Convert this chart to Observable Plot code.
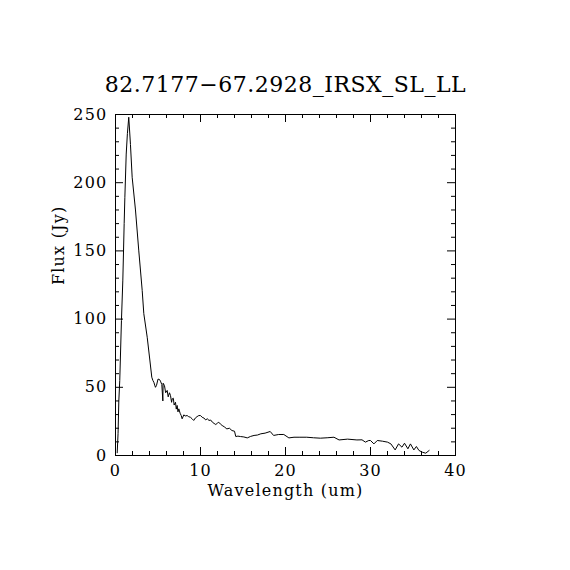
<!DOCTYPE html>
<html>
<head>
<meta charset="utf-8">
<script src="https://cdn.jsdelivr.net/npm/d3@7"></script>
<script src="https://cdn.jsdelivr.net/npm/@observablehq/plot@0.6"></script>
<style>
  html, body { margin: 0; padding: 0; background: #fff; }
  #chart { width: 570px; height: 570px; }
  #chart svg text { letter-spacing: 1.2px; }
  #chart svg g.title text { letter-spacing: 0.5px; }
</style>
</head>
<body>
<div id="chart"></div>
<script>
const titleText = "82.7177\u221267.2928_IRSX_SL_LL";
const xLabel = "Wavelength (um)";
const yLabel = "Flux (Jy)";

const wavelength = [0.2, 0.3, 0.39, 0.5, 0.7, 0.86, 1.02, 1.1, 1.26, 1.4, 1.56, 1.76, 1.96, 2.35, 2.74, 3.14, 3.33, 3.73, 4.04, 4.27, 4.4, 4.51, 4.7, 4.82, 5.0, 5.18, 5.29, 5.45, 5.57, 5.6, 5.76, 5.9, 6.08, 6.2, 6.35, 6.47, 6.6, 6.67, 6.8, 6.9, 7.06, 7.15, 7.25, 7.35, 7.45, 7.6, 7.73, 7.84, 8.04, 8.2, 8.43, 8.6, 8.82, 9.0, 9.2, 9.41, 9.6, 9.8, 10.0, 10.2, 10.4, 10.6, 10.8, 11.0, 11.2, 11.4, 11.6, 11.8, 12.0, 12.15, 12.35, 12.55, 12.8, 13.1, 13.4, 13.7, 14.0, 14.15, 14.4, 14.7, 15.1, 15.5, 15.9, 16.3, 16.7, 17.1, 17.6, 18.2, 18.6, 19.2, 19.8, 20.4, 21.0, 21.6, 22.5, 23.3, 24.1, 24.9, 25.7, 26.3, 27.3, 28.4, 29.0, 29.4, 29.8, 30.0, 30.4, 30.8, 31.4, 32.0, 32.4, 32.9, 33.3, 33.7, 34.0, 34.4, 34.7, 35.1, 35.4, 35.7, 36.1, 36.5, 36.9];
const flux = [2, 16, 40, 55, 99, 128, 170, 189, 221, 236, 248, 228, 204, 180, 150, 121, 104, 86.7, 70, 57.4, 55, 53.7, 50, 51.3, 56, 55.7, 54.5, 52, 40, 53, 51.3, 46, 47.7, 43, 46, 44, 39, 41.5, 42, 37, 39, 34, 36.7, 32, 34.2, 31, 29.3, 26.9, 29.8, 29, 29.3, 28.5, 28, 27, 25.7, 27.6, 28.5, 29.3, 29.3, 28, 27.5, 26.1, 26.9, 25.7, 26, 24.4, 23.5, 22.7, 23.8, 24.4, 23, 22, 21, 19.5, 20, 18.3, 17.8, 13.9, 14.2, 13.9, 13.6, 12.9, 14, 14.7, 15, 15.9, 16.4, 17.6, 14.7, 15.4, 15.4, 12.9, 13.4, 13.4, 13.4, 13, 12.7, 13, 13.4, 11.4, 12, 11.4, 11.5, 9.8, 11, 11, 8.5, 11, 10.5, 9.8, 8.5, 4.1, 8.5, 6.1, 9, 4.9, 8.5, 4.1, 6.6, 3.7, 2.4, 1.7, 3.7];

const xMajor = [0, 10, 20, 30, 40];
const xMinor = [2, 4, 6, 8, 12, 14, 16, 18, 22, 24, 26, 28, 32, 34, 36, 38];
const yMajor = [0, 50, 100, 150, 200, 250];
const yMinor = [10, 20, 30, 40, 60, 70, 80, 90, 110, 120, 130, 140, 160, 170, 180, 190, 210, 220, 230, 240];

const data = wavelength.map((w, i) => ({w, f: flux[i]}));

const W = 570, H = 570;
const mL = 115, mR = 115, mT = 114, mB = 115;
const innerW = W - mL - mR, innerH = H - mT - mB;
const majLen = 8, minLen = 4;
const font = "'DejaVu Serif', 'Liberation Serif', serif";

const chart = Plot.plot({
  width: W, height: H,
  marginLeft: mL, marginRight: mR, marginTop: mT, marginBottom: mB,
  style: {fontFamily: font, fontSize: "16px", color: "#000", background: "#fff"},
  x: {domain: [0, 40]},
  y: {domain: [0, 250]},
  marks: [
    Plot.frame({stroke: "#000", strokeWidth: 1}),
    Plot.ruleX(xMajor, {x: d => d, insetTop: innerH - majLen, stroke: "#000"}),
    Plot.ruleX(xMajor, {x: d => d, insetBottom: innerH - majLen, stroke: "#000"}),
    Plot.ruleX(xMinor, {x: d => d, insetTop: innerH - minLen, stroke: "#000"}),
    Plot.ruleX(xMinor, {x: d => d, insetBottom: innerH - minLen, stroke: "#000"}),
    Plot.ruleY(yMajor, {y: d => d, insetRight: innerW - majLen, stroke: "#000"}),
    Plot.ruleY(yMajor, {y: d => d, insetLeft: innerW - majLen, stroke: "#000"}),
    Plot.ruleY(yMinor, {y: d => d, insetRight: innerW - minLen, stroke: "#000"}),
    Plot.ruleY(yMinor, {y: d => d, insetLeft: innerW - minLen, stroke: "#000"}),
    Plot.axisX(xMajor, {tickSize: 0, tickPadding: 9, label: null, fontSize: 16, tickFormat: d => String(d)}),
    Plot.axisY(yMajor, {tickSize: 0, tickPadding: 8, label: null, fontSize: 16, tickFormat: d => String(d)}),
    Plot.line(data, {x: "w", y: "f", stroke: "#000", strokeWidth: 1}),
    Plot.text([xLabel], {text: d => d, frameAnchor: "bottom", dy: 40, fontSize: 16, fill: "#000"}),
    Plot.text([yLabel], {text: d => d, frameAnchor: "left", dx: -57, rotate: -90, fontSize: 16, fill: "#000"}),
    Plot.text([titleText], {text: d => d, frameAnchor: "top", dy: -38, fontSize: 22, fill: "#000", className: "title"})
  ]
});
document.getElementById("chart").appendChild(chart);
</script>
</body>
</html>
